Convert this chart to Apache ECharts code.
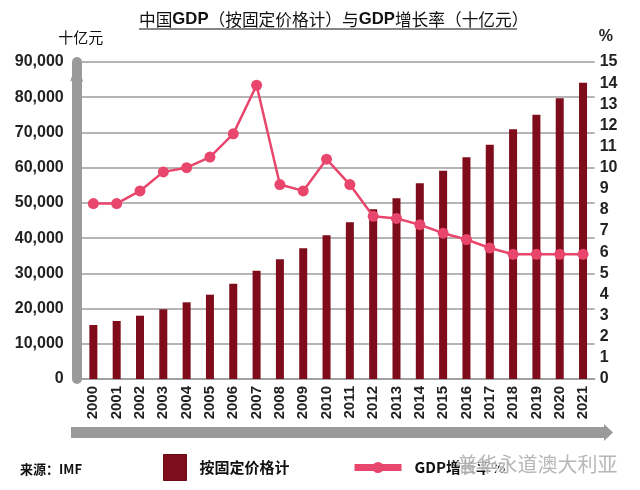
<!DOCTYPE html>
<html>
<head>
<meta charset="utf-8">
<script src="https://cdn.jsdelivr.net/npm/echarts@6/dist/echarts.min.js"></script>
<style>
html,body{margin:0;padding:0;background:#fff;}
#c{width:640px;height:490px;}
</style>
</head>
<body>
<div id="c"></div>
<script>
var years = ['2000','2001','2002','2003','2004','2005','2006','2007','2008','2009','2010','2011','2012','2013','2014','2015','2016','2017','2018','2019','2020','2021'];
var gdpConst = [15330,16470,17970,19790,21770,23940,27060,30750,33980,37110,40800,44490,48180,51300,55560,59140,62950,66530,70900,75040,79700,84130];
var growthRate = [8.3,8.3,8.9,9.8,10.0,10.5,11.6,13.9,9.2,8.9,10.4,9.2,7.7,7.6,7.3,6.9,6.6,6.2,5.9,5.9,5.9,5.9];
var leftTicks = ['0','10,000','20,000','30,000','40,000','50,000','60,000','70,000','80,000','90,000'];
var rightTicks = ['0','1','2','3','4','5','6','7','8','9','10','11','12','13','14','15'];
var barName = '按固定价格计';
var lineName = 'GDP增长率%';

var numFont = '"Liberation Sans Narrow","Liberation Sans",Arial,sans-serif';
var cjk = '"Noto Sans CJK SC","Liberation Sans",sans-serif';

var chart = echarts.init(document.getElementById('c'), null, {renderer:'canvas'});
chart.setOption({
  animation:false,
  backgroundColor:'#ffffff',
  title:{
    text:'{a|中国}{b|GDP}{a|（按固定价格计）与}{b|GDP}{a|增长率（十亿元）}',
    left:134, top:6,
    textStyle:{
      rich:{
        a:{fontFamily:cjk,fontSize:16.7,color:'#111',fontWeight:'normal'},
        b:{fontFamily:'"Liberation Sans",Arial,sans-serif',fontSize:16.7,color:'#111',fontWeight:'bold'}
      }
    }
  },
  grid:{left:81.7,right:45.3,top:62,bottom:111,containLabel:false},
  legend:[{
    data:[barName], left:158, top:449, itemWidth:23, itemHeight:26, icon:'rect',
    itemStyle:{borderColor:'#6a0a12',borderWidth:1},
    textStyle:{fontFamily:cjk,fontSize:15,fontWeight:'bold',color:'#111',padding:[0,0,0,8]}
  },{
    data:[lineName], left:346, top:455, itemWidth:47, itemHeight:14,
    lineStyle:{width:7},
    textStyle:{fontFamily:cjk,fontSize:15,fontWeight:'bold',color:'#111',padding:[0,0,0,8]}
  }],
  xAxis:[{
    type:'category', data:years, boundaryGap:true,
    axisLine:{show:true,lineStyle:{color:'#9a9a9a',width:1.5}},
    axisTick:{show:false},
    axisLabel:{rotate:90,margin:7,fontFamily:'"Liberation Sans",Arial,sans-serif',fontSize:15,fontWeight:'bold',color:'#222'}
  }],
  yAxis:[{
    type:'value', min:0, max:90000, interval:10000, offset:5,
    name:'十亿元', nameLocation:'end', nameGap:17,
    nameTextStyle:{fontFamily:cjk,fontSize:15,color:'#111',align:'center',padding:[0,0,0,8]},
    axisLine:{show:true,symbol:['none','arrow'],symbolSize:[10,20],lineStyle:{color:'#9a9a9a',width:10}},
    axisTick:{show:false},
    axisLabel:{margin:13,fontFamily:numFont,fontSize:16,fontWeight:'bold',color:'#222',
      formatter:function(v){return leftTicks[Math.round(v/10000)];}},
    splitLine:{show:true,lineStyle:{color:'#9d9d9d',width:1.5}}
  },{
    type:'value', min:0, max:15, interval:1, position:'right',
    name:'%', nameLocation:'end', nameGap:17,
    nameTextStyle:{fontFamily:numFont,fontSize:16,fontWeight:'bold',color:'#222',align:'left',padding:[0,0,0,4]},
    axisLine:{show:false}, axisTick:{show:false}, splitLine:{show:false},
    axisLabel:{margin:5,fontFamily:numFont,fontSize:16,fontWeight:'bold',color:'#222',
      formatter:function(v){return rightTicks[Math.round(v)];}}
  }],
  series:[{
    name:barName, type:'bar', data:gdpConst, yAxisIndex:0, barWidth:8,
    itemStyle:{color:'#7e0c1a'}
  },{
    name:lineName, type:'line', data:growthRate, yAxisIndex:1,
    symbol:'circle', symbolSize:11, showSymbol:true,
    lineStyle:{color:'#e8466c',width:2.5},
    itemStyle:{color:'#e8466c'}
  }],
  graphic:[
    {type:'line',shape:{x1:139,y1:29,x2:517,y2:29},style:{stroke:'#111',lineWidth:1.2}},
    {type:'rect',shape:{x:71,y:427,width:534,height:11},style:{fill:'#9a9a9a'}},
    {type:'polygon',shape:{points:[[604,424],[613,432.5],[604,441]]},style:{fill:'#9a9a9a'}},
    {type:'text',left:20,top:463,style:{text:'来源：IMF',font:'bold 13px "Noto Sans CJK SC", sans-serif',fill:'#111'}},
    {type:'text',left:456,top:453,z:100,style:{text:'普华永道澳大利亚',font:'20px "Noto Sans CJK SC", sans-serif',fill:'rgba(170,170,170,0.85)',stroke:'rgba(255,255,255,0.7)',lineWidth:3}}
  ]
});
</script>
</body>
</html>
